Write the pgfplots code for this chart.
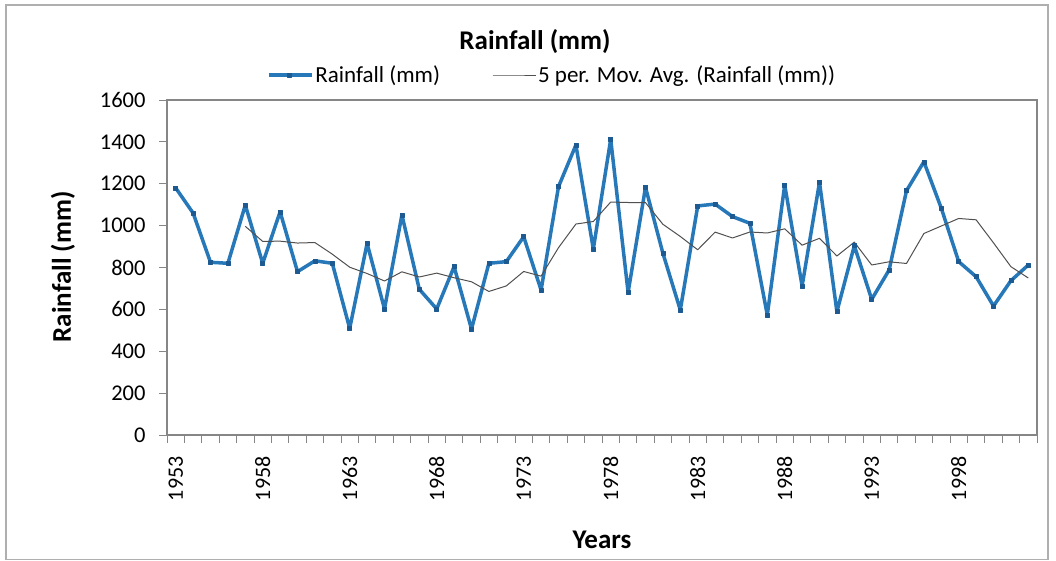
\documentclass[border=0pt]{standalone}
\usepackage{fontspec}
\setmainfont{Carlito}
\usepackage{pgfplots}
\pgfplotsset{compat=1.18}
\definecolor{rainblue}{RGB}{38,120,184}
\definecolor{markblue}{RGB}{28,90,145}
\definecolor{axgray}{RGB}{134,134,134}
\definecolor{mavg}{RGB}{80,80,80}
\definecolor{framegray}{RGB}{175,175,175}

\pgfplotstableread{
year rain
1953 1180
1954 1060
1955 825
1956 820
1957 1098
1958 820
1959 1066
1960 780
1961 832
1962 820
1963 509
1964 915
1965 602
1966 1051
1967 696
1968 602
1969 804
1970 506
1971 820
1972 828
1973 947
1974 692
1975 1186
1976 1385
1977 888
1978 1412
1979 681
1980 1183
1981 868
1982 597
1983 1094
1984 1103
1985 1043
1986 1011
1987 573
1988 1194
1989 712
1990 1207
1991 589
1992 904
1993 648
1994 788
1995 1167
1996 1305
1997 1083
1998 828
1999 756
2000 616
2001 737
2002 812
}\raintable

\pgfplotstableread{
year ma
1957 996.6
1958 924.6
1959 925.8
1960 916.8
1961 919.2
1962 863.6
1963 801.4
1964 771.2
1965 735.6
1966 779.4
1967 754.6
1968 773.2
1969 751.0
1970 731.8
1971 685.6
1972 712.0
1973 781.0
1974 758.6
1975 894.6
1976 1007.6
1977 1019.6
1978 1112.6
1979 1110.4
1980 1109.8
1981 1006.4
1982 948.2
1983 884.6
1984 969.0
1985 941.0
1986 969.6
1987 964.8
1988 984.8
1989 906.6
1990 939.4
1991 855.0
1992 921.2
1993 812.0
1994 827.2
1995 819.2
1996 962.4
1997 998.2
1998 1034.2
1999 1027.8
2000 917.6
2001 804.0
2002 749.8
}\matable

\begin{document}
\begin{tikzpicture}
\path[use as bounding box] (0bp,0bp) rectangle (1056bp,561bp);
\draw[framegray, line width=1.5bp] (6bp,1.5bp) rectangle (1048bp,556bp);
\begin{axis}[
  at={(167bp,126bp)}, anchor=south west,
  width=870bp, height=335bp, scale only axis,
  xmin=1952.5, xmax=2002.5, ymin=0, ymax=1600,
  xtick={1952.5,1953.5,...,2002.6},
  xticklabels={},
  extra x ticks={1953,1958,...,1998},
  extra x tick style={major tick length=0pt},
  xticklabel style={rotate=90, anchor=east, xshift=-18bp, font=\fontsize{22bp}{22bp}\selectfont},
  ytick={0,200,...,1600},
  yticklabel style={xshift=-10bp, font=\fontsize{22.5bp}{22.5bp}\selectfont},
  /pgf/number format/1000 sep={},
  /pgf/number format/assume math mode=true,
  xtick pos=left, ytick pos=left,
  tick align=outside,
  major tick length=8bp,
  tick style={axgray, line width=0.8bp},
  axis line style={axgray, line width=1.3bp},
  legend style={draw=none, fill=none,
    at={(axis description cs:0.4425,1.0746)}, anchor=center,
    font=\fontsize{23bp}{23bp}\selectfont,
    /tikz/every even column/.append style={column sep=50bp}},
  legend columns=2,
  legend image code/.code={\draw[mark repeat=2,mark phase=2,#1] plot coordinates {(0bp,0bp) (21bp,0bp) (43bp,0bp)};},
]
\addplot[rainblue, line width=3.5bp, line join=round, mark=square*, mark size=2bp,
  mark options={markblue, line width=0.5bp}] table[x=year,y=rain] {\raintable};
\addlegendentry{Rainfall (mm)}
\addplot[mavg, line width=1bp, line join=round] table[x=year,y=ma] {\matable};
\addlegendentry{5 per. Mov. Avg. (Rainfall (mm))}
\end{axis}
\node[font=\bfseries\fontsize{27bp}{27bp}\selectfont] at (535bp,519bp) {Rainfall (mm)};
\node[font=\bfseries\fontsize{27bp}{27bp}\selectfont, rotate=90] at (63bp,294bp) {Rainfall (mm)};
\node[font=\bfseries\fontsize{27bp}{27bp}\selectfont] at (602bp,21bp) {Years};
\end{tikzpicture}
\end{document}
